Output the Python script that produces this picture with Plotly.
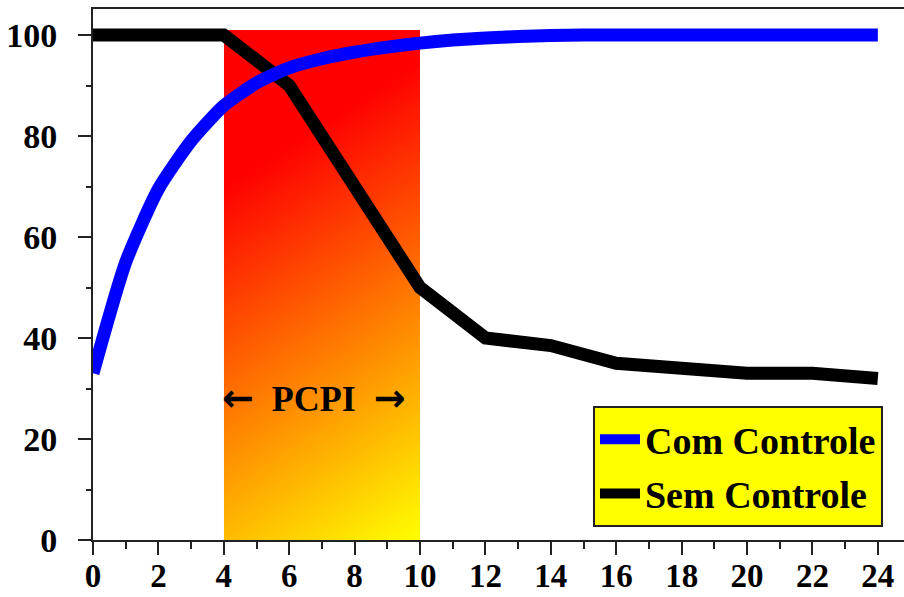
import base64
import plotly.graph_objects as go

# ---- data ----
x_com = list(range(0, 25))
y_com = [33, 55, 69.5, 79, 86, 90.5, 93.5, 95.3, 96.6, 97.6, 98.4, 99, 99.4, 99.7, 99.9,
         100, 100, 100, 100, 100, 100, 100, 100, 100, 100]
x_sem = [0, 2, 4, 6, 8, 10, 12, 14, 16, 18, 20, 22, 24]
y_sem = [100, 100, 100, 90, 70, 50, 40, 38.5, 35, 34, 33, 33, 32]
x_ticks = list(range(0, 25, 2))
y_ticks = [0, 20, 40, 60, 80, 100]
pcpi_start, pcpi_end, pcpi_top = 4, 10, 101
names = ["Com Controle", "Sem Controle"]

FONT = "Liberation Serif"

# gradient image (red top-left -> yellow bottom-right)
svg = (
    '<svg xmlns="http://www.w3.org/2000/svg" width="198" height="510" viewBox="0 0 198 510" '
    'preserveAspectRatio="none">'
    '<defs><linearGradient id="g" gradientUnits="userSpaceOnUse" x1="71.4" y1="111.3" x2="289.6" y2="451.6">'
    '<stop offset="0" stop-color="#ff0000"/><stop offset="1" stop-color="#ffff00"/>'
    '</linearGradient></defs><rect x="0" y="0" width="198" height="510" fill="url(#g)"/></svg>'
)
svg_uri = "data:image/svg+xml;base64," + base64.b64encode(svg.encode()).decode()

fig = go.Figure()
fig.add_trace(go.Scatter(x=x_sem, y=y_sem, mode="lines", name=names[1],
                         line=dict(color="#000000", width=13), legendrank=2,
                         legendgroup="b"))
fig.add_trace(go.Scatter(x=x_com, y=y_com, mode="lines", name=names[0],
                         line=dict(color="#0000ff", width=13, shape="spline", smoothing=0.6),
                         legendrank=1, legendgroup="a"))

fig.add_layout_image(dict(source=svg_uri, xref="x", yref="y", x=pcpi_start, y=pcpi_top,
                          sizex=pcpi_end - pcpi_start, sizey=pcpi_top, sizing="stretch",
                          layer="below", xanchor="left", yanchor="top"))

arrow = '<span style="font-family:DejaVu Sans;font-size:38px">{}</span>'
fig.add_annotation(x=6.77, y=28.1, xref="x", yref="y",
                   text=arrow.format("←") + "  PCPI  " + arrow.format("→"), showarrow=False,
                   font=dict(family=FONT, size=36, color="black", weight="bold"))

fig.update_layout(
    width=904, height=597,
    margin=dict(l=93, r=0, t=9, b=57, autoexpand=False),
    paper_bgcolor="white", plot_bgcolor="white",
    font=dict(family=FONT, color="black"),
    showlegend=True,
    legend=dict(x=0.6165, y=0.2524, xanchor="left", yanchor="top",
                bgcolor="#ffff00", bordercolor="#222222", borderwidth=2,
                font=dict(family=FONT, size=38, color="black", weight="bold"),
                traceorder="grouped", tracegroupgap=2, itemwidth=40),
    xaxis=dict(range=[0, 24.8], tickvals=x_ticks, showgrid=False, zeroline=False,
               automargin=False,
               showline=True, linecolor="#222222", linewidth=2, mirror=True,
               ticks="outside", ticklen=13, tickwidth=2, tickcolor="#222222",
               ticklabelstandoff=-8,
               tickfont=dict(family=FONT, size=33, color="black", weight="bold"),
               minor=dict(dtick=1, tick0=0, ticks="outside", ticklen=7, tickwidth=2,
                          tickcolor="#222222", showgrid=False)),
    yaxis=dict(range=[0, 105.15], tickvals=y_ticks, showgrid=False, zeroline=False,
               automargin=False,
               showline=True, linecolor="#222222", linewidth=2,
               ticks="outside", ticklen=13, tickwidth=2, tickcolor="#222222",
               ticklabelstandoff=14,
               tickfont=dict(family=FONT, size=34, color="black", weight="bold"),
               minor=dict(dtick=10, tick0=0, ticks="outside", ticklen=5, tickwidth=2,
                          tickcolor="#222222", showgrid=False)),
)

fig.write_html("out.html")
